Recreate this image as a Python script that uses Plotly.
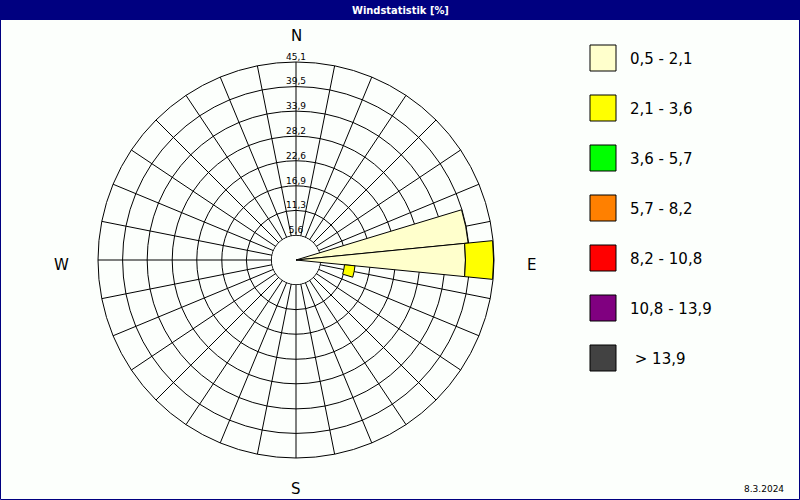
import plotly.graph_objects as go

# 32 compass directions, 11.25 degrees apart (0 = N, clockwise)
directions = [i * 11.25 for i in range(32)]

# speed classes [m/s] and their colours
classes = ["0,5 - 2,1", "2,1 - 3,6", "3,6 - 5,7", "5,7 - 8,2",
           "8,2 - 10,8", "10,8 - 13,9", " > 13,9"]
colors = ["#FFFFCC", "#FFFF00", "#00FF00", "#FF8000",
          "#FF0000", "#800080", "#424242"]

# frequency per direction [%] (only EbN, E and EbS are used)
pale_start = {78.75: 0.0, 90.0: 0.0}
pale_end = {78.75: 39.4, 90.0: 38.6}
yellow_start = {90.0: 38.6, 101.25: 11.1}
yellow_end = {90.0: 45.0, 101.25: 13.5}

# radial rings
ring_vals = [5.6, 11.3, 16.9, 22.6, 28.2, 33.9, 39.5, 45.1]
ring_text = ["5,6", "11,3", "16,9", "22,6", "28,2", "33,9", "39,5", "45,1"]

compass = ["N", "E", "S", "W"]
date_text = "8.3.2024"
title_text = "Windstatistik [%]"

W, H = 800, 500
bg = "#FCFFFC"
navy = "#000080"

fig = go.Figure()

# white calm circle in the middle (hides the spokes)
fig.add_trace(go.Barpolar(
    theta=[0], r=[ring_vals[0] - 0.1], width=[360],
    marker=dict(color=bg, line=dict(width=0)),
    showlegend=False, hoverinfo="skip"))

# speed class wedges
for starts, ends, col in [(pale_start, pale_end, colors[0]),
                          (yellow_start, yellow_end, colors[1])]:
    th = list(ends.keys())
    fig.add_trace(go.Barpolar(
        theta=th,
        base=[starts[t] for t in th],
        r=[ends[t] - starts[t] for t in th],
        width=[11.25] * len(th),
        marker=dict(color=col, line=dict(color="black", width=1)),
        showlegend=False))

# ring labels on the north line
fig.add_trace(go.Scatterpolar(
    theta=[0] * len(ring_vals), r=ring_vals, text=ring_text,
    mode="text", textposition="top center",
    textfont=dict(family="DejaVu Sans", size=9, color="black"),
    showlegend=False, hoverinfo="skip"))

cx, cy, R = 296, 260, 198
fig.update_layout(
    width=W, height=H,
    margin=dict(l=0, r=0, t=0, b=0),
    paper_bgcolor=bg,
    barmode="overlay",
    polar=dict(
        domain=dict(x=[(cx - R) / W, (cx + R) / W],
                    y=[(H - cy - R) / H, (H - cy + R) / H]),
        bgcolor=bg,
        angularaxis=dict(direction="clockwise", rotation=90,
                         tickvals=directions, showticklabels=False, ticks="",
                         showgrid=True, gridcolor="black", gridwidth=1,
                         showline=True, linecolor="black", linewidth=1),
        radialaxis=dict(range=[0, ring_vals[-1]], tickvals=ring_vals,
                        showticklabels=False, ticks="", showline=False,
                        showgrid=True, gridcolor="black", gridwidth=1),
    ),
)

shapes = [
    dict(type="rect", xref="paper", yref="paper", x0=0, x1=1,
         y0=1 - 20 / H, y1=1, fillcolor=navy, line=dict(width=0), layer="below"),
    dict(type="rect", xref="paper", yref="paper", x0=0.5 / W, x1=1 - 0.5 / W,
         y0=0.5 / H, y1=1 - 0.5 / H, line=dict(color=navy, width=1)),
]
annotations = [
    dict(text="<b>" + title_text + "</b>", x=0.5, y=1 - 10 / H,
         font=dict(family="DejaVu Sans Condensed, DejaVu Sans", size=11, color="white")),
    dict(text=date_text, x=786 / W, y=1 - 489 / H, xanchor="right",
         font=dict(family="DejaVu Sans", size=9, color="black")),
]

# compass letters
for lab, (px, py) in zip(compass, [(296, 36), (531, 265), (296, 489), (61, 265)]):
    annotations.append(dict(text=lab, x=px / W, y=1 - py / H,
                            font=dict(family="DejaVu Sans", size=15, color="black")))

# legend boxes
for i, (lab, col) in enumerate(zip(classes, colors)):
    top = 45 + 50 * i
    shapes.append(dict(type="rect", xref="paper", yref="paper",
                       x0=590 / W, x1=616 / W, y0=1 - (top + 26) / H, y1=1 - top / H,
                       fillcolor=col, line=dict(color="black", width=1)))
    annotations.append(dict(text=lab, x=628 / W, y=1 - (top + 14) / H, xanchor="left",
                            font=dict(family="DejaVu Sans", size=15, color="black")))

for a in annotations:
    a.update(xref="paper", yref="paper", yanchor="middle", showarrow=False)
    a.setdefault("xanchor", "center")

fig.update_layout(shapes=shapes, annotations=annotations)

# drop the browser's default page margin so the figure sits at 0,0
fig.write_html("out.html", config={"displayModeBar": False},
               post_script="document.body.style.margin='0';")
